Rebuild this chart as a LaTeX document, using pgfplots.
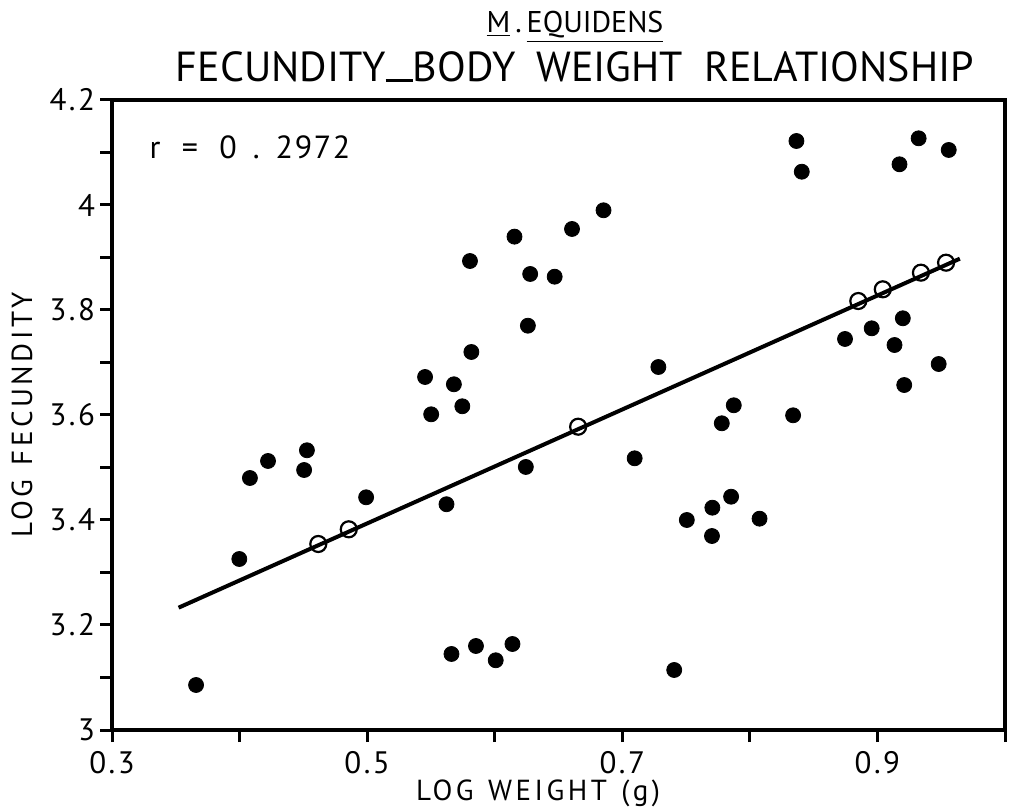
\documentclass[border=0pt]{standalone}
\usepackage{fontspec}
\setmainfont{PT Sans}
\usepackage{pgfplots}
\pgfplotsset{compat=1.18}
\begin{document}
\begin{tikzpicture}
\useasboundingbox (0pt,0pt) rectangle (505pt,406pt);
\begin{axis}[
  at={(56pt,41pt)}, anchor=south west,
  scale only axis, width=446.5pt, height=315pt,
  xmin=0.3, xmax=1.0, ymin=3, ymax=4.2,
  axis line style={line width=2pt},
  tick style={line width=1.5pt, black},
  major tick length=6pt,
  tick align=outside,
  xtick pos=bottom, ytick pos=left,
  xtick={0.3,0.4,0.5,0.6,0.7,0.8,0.9,1.0},
  xticklabels={0.3,,0.5,,0.7,,0.9,},
  ytick={3,3.1,3.2,3.3,3.4,3.5,3.6,3.7,3.8,3.9,4.0,4.1,4.2},
  yticklabels={3,,3.2,,3.4,,3.6,,3.8,,4,,4.2},
  xticklabel style={font=\fontsize{15.5}{16}\selectfont\addfontfeature{LetterSpace=8}, yshift=-1pt},
  yticklabel style={font=\fontsize{15.5}{16}\selectfont\addfontfeature{LetterSpace=8}, xshift=1pt},
  clip=false,
]
\addplot[line width=2pt, black, no marks] coordinates {(0.3522,3.233) (0.9646,3.8977)};
\addplot[only marks, mark=*, mark size=3.75pt, black] coordinates {
(0.3659,3.0857) (0.3998,3.3257) (0.4081,3.4800) (0.4223,3.5124) (0.4528,3.5328)
(0.4506,3.4952) (0.4992,3.4432) (0.5454,3.6724) (0.5502,3.6013) (0.5680,3.6585)
(0.5746,3.6166) (0.5817,3.7200) (0.5806,3.8933) (0.6260,3.7701) (0.6278,3.8686)
(0.6470,3.8634) (0.6155,3.9397) (0.6606,3.9543) (0.6853,3.9899) (0.7283,3.6914)
(0.6244,3.5010) (0.7097,3.5175) (0.5622,3.4300) (0.5661,3.1448) (0.5853,3.1600)
(0.6008,3.1328) (0.6139,3.1638) (0.7407,3.1143) (0.7874,3.6185) (0.7780,3.5842)
(0.8339,3.5994) (0.7506,3.4000) (0.7706,3.4234) (0.7853,3.4444) (0.8076,3.4025)
(0.7703,3.3695) (0.8746,3.7448) (0.8365,4.1219) (0.8407,4.0634) (0.9323,4.1270)
(0.9173,4.0775) (0.9559,4.1048) (0.8955,3.7651) (0.9199,3.7842) (0.9134,3.7333)
(0.9480,3.6971) (0.9210,3.6571)
};
\addplot[only marks, mark=o, mark size=4pt, line width=1.1pt, black] coordinates {
(0.4617,3.3543) (0.4856,3.3823) (0.6654,3.5777) (0.8850,3.8171)
(0.9042,3.8394) (0.9341,3.8711) (0.9538,3.8901)
};
\end{axis}
\node[font=\fontsize{16}{18}\selectfont\addfontfeature{LetterSpace=5}] at (125pt,332.5pt) {r\enspace\,=\enspace\,0\enspace.\enspace2972};
\node[font=\fontsize{14.5}{16}\selectfont\addfontfeature{LetterSpace=12}, rotate=90] at (11pt,198.5pt) {LOG\enspace FECUNDITY};
\node[font=\fontsize{14.5}{16}\selectfont\addfontfeature{LetterSpace=12}] at (269pt,9.5pt) {LOG\enspace WEIGHT\enspace (g)};
\node[font=\fontsize{21}{24}\selectfont] at (287.5pt,372.5pt) {FECUNDITY\rule{0.65em}{1.4pt}BODY\enspace WEIGHT\enspace RELATIONSHIP};
\node[font=\fontsize{15}{18}\selectfont] at (287.5pt,392.5pt) {\underline{M}\,.\,\underline{EQUIDENS}};
\end{tikzpicture}
\end{document}
